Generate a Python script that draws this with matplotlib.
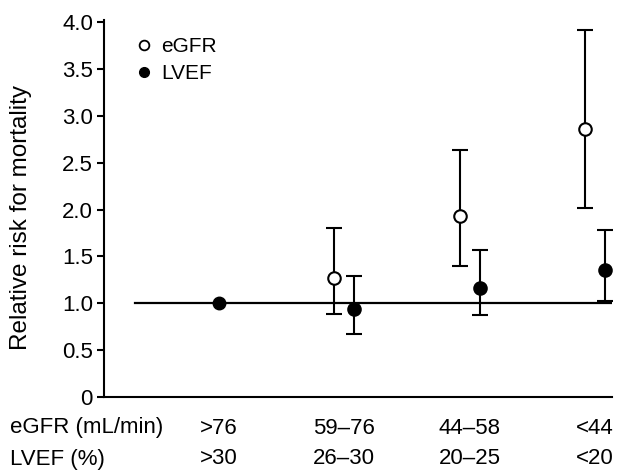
import matplotlib
matplotlib.use("Agg")
import matplotlib.pyplot as plt
from matplotlib.lines import Line2D
from matplotlib.transforms import blended_transform_factory

plt.rcParams['font.family'] = ['Liberation Sans', 'DejaVu Sans']

groups = [1, 2, 3, 4]
egfr_labels = ['>76', '59\u201376', '44\u201358', '<44']
lvef_labels = ['>30', '26\u201330', '20\u201325', '<20']

egfr_rr = [1.0, 1.27, 1.93, 2.86]
egfr_lo = [1.0, 0.89, 1.40, 2.02]
egfr_hi = [1.0, 1.80, 2.64, 3.91]

lvef_rr = [1.0, 0.94, 1.16, 1.35]
lvef_lo = [1.0, 0.67, 0.87, 1.02]
lvef_hi = [1.0, 1.29, 1.57, 1.78]

yticks = [0, 0.5, 1.0, 1.5, 2.0, 2.5, 3.0, 3.5, 4.0]
ytick_labels = ['0', '0.5', '1.0', '1.5', '2.0', '2.5', '3.0', '3.5', '4.0']

fig = plt.figure(figsize=(6.26, 4.76), dpi=100)
ax = fig.add_axes([104/626, 1-397/476, 508/626, 375/476])

off = 0.08
ex = [g - (off if i > 0 else 0) for i, g in enumerate(groups)]
lx = [g + (off if i > 0 else 0) for i, g in enumerate(groups)]

ax.axhline(1.0, xmin=0.061, xmax=1.0, color='black', lw=1.6, zorder=1)

e_err = [[r - l for r, l in zip(egfr_rr, egfr_lo)], [h - r for r, h in zip(egfr_rr, egfr_hi)]]
l_err = [[r - l for r, l in zip(lvef_rr, lvef_lo)], [h - r for r, h in zip(lvef_rr, lvef_hi)]]

ax.errorbar(ex[1:], egfr_rr[1:], yerr=[e_err[0][1:], e_err[1][1:]], fmt='o', color='black',
            mfc='white', mec='black', ms=9, mew=1.5, elinewidth=1.5, capsize=5.6, capthick=1.5, zorder=3)
ax.errorbar(lx[1:], lvef_rr[1:], yerr=[l_err[0][1:], l_err[1][1:]], fmt='o', color='black',
            mfc='black', mec='black', ms=9, mew=1.5, elinewidth=1.5, capsize=5.6, capthick=1.5, zorder=3)
ax.plot(lx[:1], lvef_rr[:1], 'o', color='black', ms=9, zorder=4)

ax.set_xlim(0.082, 4.136)
ax.set_ylim(0, 4.0)
ax.set_yticks(yticks)
ax.set_yticklabels(ytick_labels)
ax.set_xticks([])
ax.spines['top'].set_visible(False)
ax.spines['right'].set_visible(False)
ax.spines['left'].set_linewidth(1.5)
ax.spines['bottom'].set_linewidth(1.5)
ax.spines['left'].set_bounds(0, 4.02)
ax.tick_params(axis='y', length=5, width=1.5, labelsize=16, pad=3)
ax.set_ylabel('Relative risk for mortality', fontsize=17.5, va='center')
ax.yaxis.set_label_coords(-0.163, 0.48)

handles = [Line2D([], [], marker='o', ls='', mfc='white', mec='black', mew=1.3, ms=7),
           Line2D([], [], marker='o', ls='', mfc='black', mec='black', ms=7)]
ax.legend(handles, ['eGFR', 'LVEF'], loc='upper left', bbox_to_anchor=(0.017, 1.01),
          frameon=False, fontsize=15, handletextpad=0.25, labelspacing=0.4, handlelength=1.2)

tr = blended_transform_factory(ax.transData, fig.transFigure)
for g, el, ll in zip(groups, egfr_labels, lvef_labels):
    ax.text(g, 1 - 428/476, el, transform=tr, ha='center', va='center', fontsize=16)
    ax.text(g, 1 - 459/476, ll, transform=tr, ha='center', va='center', fontsize=16)
fig.text(10/626, 1 - 428/476, 'eGFR (mL/min)', ha='left', va='center', fontsize=16)
fig.text(10/626, 1 - 459/476, 'LVEF (%)', ha='left', va='center', fontsize=16)

fig.savefig('out.png', dpi=100)
